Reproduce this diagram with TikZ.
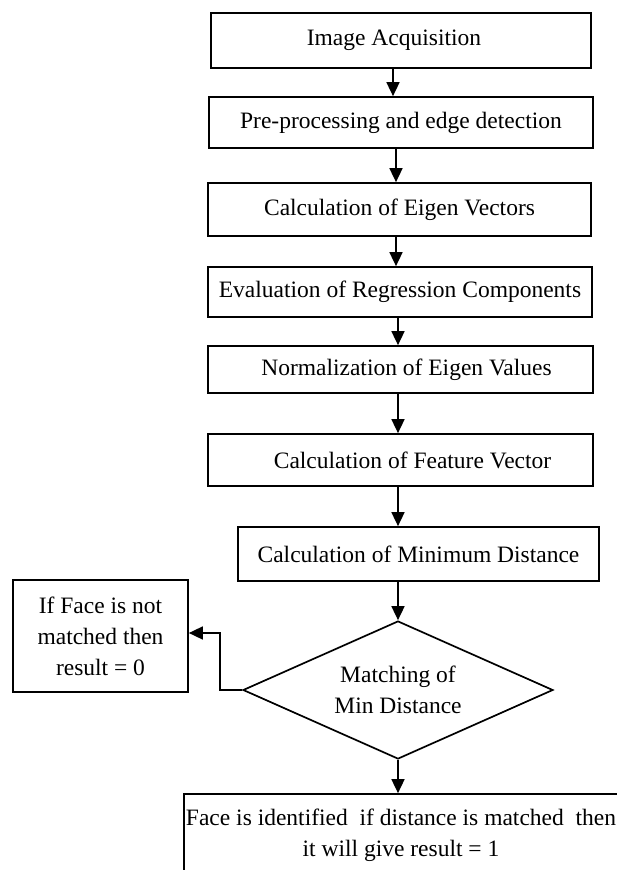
\documentclass[tikz,border=0pt]{standalone}
\usepackage{fontspec}
\setmainfont{Liberation Serif}
\usetikzlibrary{arrows.meta,shapes.geometric}
\tikzset{
  stepbox/.style={draw=black, line width=1.7pt, rectangle, inner sep=0pt,
    font=\fontsize{23.5}{31}\selectfont, align=center},
  decbox/.style={draw=black, line width=1.7pt, diamond, inner sep=0pt,
    minimum width=310pt, minimum height=138pt, aspect=2.25,
    font=\fontsize{23.5}{31}\selectfont, align=center},
  arr/.style={draw=black, line width=1.6pt, -{Triangle[width=13pt,length=14pt]}}
}
\begin{document}
\begin{tikzpicture}[x=1pt,y=-1pt]
\useasboundingbox (0,0) rectangle (617,870);
\clip (0,0) rectangle (617,870);
\node[stepbox, minimum width=380pt, minimum height=55pt] (B1) at (401,40.5) {\hspace*{-14pt}Image Acquisition};
\node[stepbox, minimum width=384pt, minimum height=51pt] (B2) at (401,122.5) {Pre-processing and edge detection};
\node[stepbox, minimum width=383pt, minimum height=53pt] (B3) at (399.5,209.5) {Calculation of Eigen Vectors};
\node[stepbox, minimum width=384pt, minimum height=50pt] (B4) at (400,292) {Evaluation of Regression Components};
\node[stepbox, minimum width=385pt, minimum height=47pt] (B5) at (400.5,369.5) {\hspace*{12pt}Normalization of Eigen Values};
\node[stepbox, minimum width=385pt, minimum height=52pt] (B6) at (400.5,460) {\hspace*{24pt}Calculation of Feature Vector};
\node[stepbox, minimum width=361pt, minimum height=54pt] (B7) at (418.5,554) {Calculation of Minimum Distance};
\node[decbox] (D) at (398,690) {Matching of\\Min Distance};
\node[stepbox, minimum width=175pt, minimum height=112pt] (L) at (100.5,636) {If Face is not\\matched then\\result = 0};
\node[stepbox, minimum width=434pt, minimum height=82pt] (F) at (401,835) {Face is identified\ \ if distance is matched\ \ then\\it will give result = 1};
\coordinate (bend) at (220,633);
\draw[arr] ([xshift=-8pt]B1.south) -- ([xshift=-8pt]B1.south |- B2.north);
\draw[arr] ([xshift=-5pt]B2.south) -- ([xshift=-5pt]B2.south |- B3.north);
\draw[arr] ([xshift=-3.5pt]B3.south) -- ([xshift=-3.5pt]B3.south |- B4.north);
\draw[arr] ([xshift=-2pt]B4.south) -- ([xshift=-2pt]B4.south |- B5.north);
\draw[arr] ([xshift=-2.5pt]B5.south) -- ([xshift=-2.5pt]B5.south |- B6.north);
\draw[arr] ([xshift=-2.5pt]B6.south) -- ([xshift=-2.5pt]B6.south |- B7.north);
\draw[arr] (D.north |- B7.south) -- (D.north);
\draw[arr] (D.south) -- (D.south |- F.north);
\draw[arr] (D.west) -| (bend) -- (L.east |- bend);
\end{tikzpicture}
\end{document}
